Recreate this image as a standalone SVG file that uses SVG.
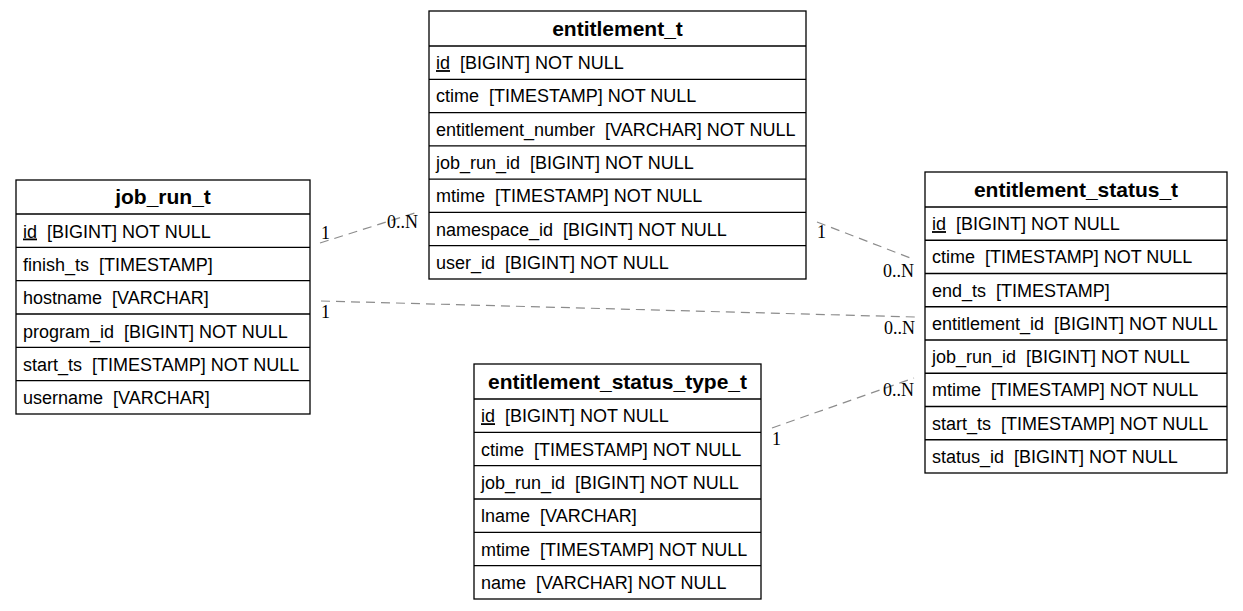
<svg xmlns="http://www.w3.org/2000/svg" width="1243" height="611" viewBox="0 0 1243 611">
<style>
.box{fill:#fff;stroke:#000;stroke-width:1.3}
.sep{stroke:#000;stroke-width:1.3}
.title{font-family:"Liberation Sans",Arial,sans-serif;font-weight:bold;font-size:21px;text-anchor:middle;fill:#000}
.col{font-family:"Liberation Sans",Arial,sans-serif;font-size:18px;fill:#000}
.edge{stroke:#8c8c8c;stroke-width:1.2;stroke-dasharray:9,6;fill:none}
.lbl{font-family:"Liberation Serif","Times New Roman",serif;font-size:18px;fill:#000}
</style>
<rect width="1243" height="611" fill="#fff"/>
<g id="connectors">
  <line class="edge" x1="320" y1="243" x2="418" y2="212"/>
  <text class="lbl" x="321" y="239">1</text>
  <text class="lbl" x="418" y="228" text-anchor="end">0..N</text>
  <line class="edge" x1="321" y1="301" x2="915" y2="317"/>
  <text class="lbl" x="321" y="318">1</text>
  <text class="lbl" x="915" y="334" text-anchor="end">0..N</text>
  <line class="edge" x1="817" y1="222" x2="913" y2="259"/>
  <text class="lbl" x="817" y="238">1</text>
  <text class="lbl" x="914" y="277" text-anchor="end">0..N</text>
  <line class="edge" x1="772" y1="428" x2="914" y2="378"/>
  <text class="lbl" x="772" y="445">1</text>
  <text class="lbl" x="914" y="396" text-anchor="end">0..N</text>
</g>
<g id="job_run_t">
  <rect class="box" x="16" y="180" width="294" height="234"/>
  <line class="sep" x1="16" y1="214" x2="310" y2="214"/>
  <line class="sep" x1="16" y1="247.3" x2="310" y2="247.3"/>
  <line class="sep" x1="16" y1="280.7" x2="310" y2="280.7"/>
  <line class="sep" x1="16" y1="314" x2="310" y2="314"/>
  <line class="sep" x1="16" y1="347.3" x2="310" y2="347.3"/>
  <line class="sep" x1="16" y1="380.7" x2="310" y2="380.7"/>
  <text class="title" x="163" y="204">job_run_t</text>
  <text class="col" x="23" y="237.5" xml:space="preserve"><tspan text-decoration="underline">id</tspan>  [BIGINT] NOT NULL</text>
  <text class="col" x="23" y="270.8" xml:space="preserve">finish_ts  [TIMESTAMP]</text>
  <text class="col" x="23" y="304.2" xml:space="preserve">hostname  [VARCHAR]</text>
  <text class="col" x="23" y="337.5" xml:space="preserve">program_id  [BIGINT] NOT NULL</text>
  <text class="col" x="23" y="370.8" xml:space="preserve">start_ts  [TIMESTAMP] NOT NULL</text>
  <text class="col" x="23" y="404.2" xml:space="preserve">username  [VARCHAR]</text>
</g>
<g id="entitlement_t">
  <rect class="box" x="429" y="11" width="377" height="268"/>
  <line class="sep" x1="429" y1="46" x2="806" y2="46"/>
  <line class="sep" x1="429" y1="79.3" x2="806" y2="79.3"/>
  <line class="sep" x1="429" y1="112.6" x2="806" y2="112.6"/>
  <line class="sep" x1="429" y1="145.9" x2="806" y2="145.9"/>
  <line class="sep" x1="429" y1="179.1" x2="806" y2="179.1"/>
  <line class="sep" x1="429" y1="212.4" x2="806" y2="212.4"/>
  <line class="sep" x1="429" y1="245.7" x2="806" y2="245.7"/>
  <text class="title" x="617.5" y="36">entitlement_t</text>
  <text class="col" x="436" y="69.1" xml:space="preserve"><tspan text-decoration="underline">id</tspan>  [BIGINT] NOT NULL</text>
  <text class="col" x="436" y="102.4" xml:space="preserve">ctime  [TIMESTAMP] NOT NULL</text>
  <text class="col" x="436" y="135.7" xml:space="preserve">entitlement_number  [VARCHAR] NOT NULL</text>
  <text class="col" x="436" y="169" xml:space="preserve">job_run_id  [BIGINT] NOT NULL</text>
  <text class="col" x="436" y="202.3" xml:space="preserve">mtime  [TIMESTAMP] NOT NULL</text>
  <text class="col" x="436" y="235.6" xml:space="preserve">namespace_id  [BIGINT] NOT NULL</text>
  <text class="col" x="436" y="268.9" xml:space="preserve">user_id  [BIGINT] NOT NULL</text>
</g>
<g id="entitlement_status_t">
  <rect class="box" x="925" y="172" width="302" height="301"/>
  <line class="sep" x1="925" y1="207" x2="1227" y2="207"/>
  <line class="sep" x1="925" y1="240.25" x2="1227" y2="240.25"/>
  <line class="sep" x1="925" y1="273.5" x2="1227" y2="273.5"/>
  <line class="sep" x1="925" y1="306.75" x2="1227" y2="306.75"/>
  <line class="sep" x1="925" y1="340" x2="1227" y2="340"/>
  <line class="sep" x1="925" y1="373.25" x2="1227" y2="373.25"/>
  <line class="sep" x1="925" y1="406.5" x2="1227" y2="406.5"/>
  <line class="sep" x1="925" y1="439.75" x2="1227" y2="439.75"/>
  <text class="title" x="1076" y="197">entitlement_status_t</text>
  <text class="col" x="932" y="230.1" xml:space="preserve"><tspan text-decoration="underline">id</tspan>  [BIGINT] NOT NULL</text>
  <text class="col" x="932" y="263.4" xml:space="preserve">ctime  [TIMESTAMP] NOT NULL</text>
  <text class="col" x="932" y="296.6" xml:space="preserve">end_ts  [TIMESTAMP]</text>
  <text class="col" x="932" y="329.9" xml:space="preserve">entitlement_id  [BIGINT] NOT NULL</text>
  <text class="col" x="932" y="363.1" xml:space="preserve">job_run_id  [BIGINT] NOT NULL</text>
  <text class="col" x="932" y="396.4" xml:space="preserve">mtime  [TIMESTAMP] NOT NULL</text>
  <text class="col" x="932" y="429.6" xml:space="preserve">start_ts  [TIMESTAMP] NOT NULL</text>
  <text class="col" x="932" y="462.9" xml:space="preserve">status_id  [BIGINT] NOT NULL</text>
</g>
<g id="entitlement_status_type_t">
  <rect class="box" x="474" y="364" width="287" height="235"/>
  <line class="sep" x1="474" y1="399" x2="761" y2="399"/>
  <line class="sep" x1="474" y1="432.3" x2="761" y2="432.3"/>
  <line class="sep" x1="474" y1="465.7" x2="761" y2="465.7"/>
  <line class="sep" x1="474" y1="499" x2="761" y2="499"/>
  <line class="sep" x1="474" y1="532.3" x2="761" y2="532.3"/>
  <line class="sep" x1="474" y1="565.7" x2="761" y2="565.7"/>
  <text class="title" x="617.5" y="389">entitlement_status_type_t</text>
  <text class="col" x="481" y="422.2" xml:space="preserve"><tspan text-decoration="underline">id</tspan>  [BIGINT] NOT NULL</text>
  <text class="col" x="481" y="455.5" xml:space="preserve">ctime  [TIMESTAMP] NOT NULL</text>
  <text class="col" x="481" y="488.8" xml:space="preserve">job_run_id  [BIGINT] NOT NULL</text>
  <text class="col" x="481" y="522.2" xml:space="preserve">lname  [VARCHAR]</text>
  <text class="col" x="481" y="555.5" xml:space="preserve">mtime  [TIMESTAMP] NOT NULL</text>
  <text class="col" x="481" y="588.8" xml:space="preserve">name  [VARCHAR] NOT NULL</text>
</g>
</svg>
